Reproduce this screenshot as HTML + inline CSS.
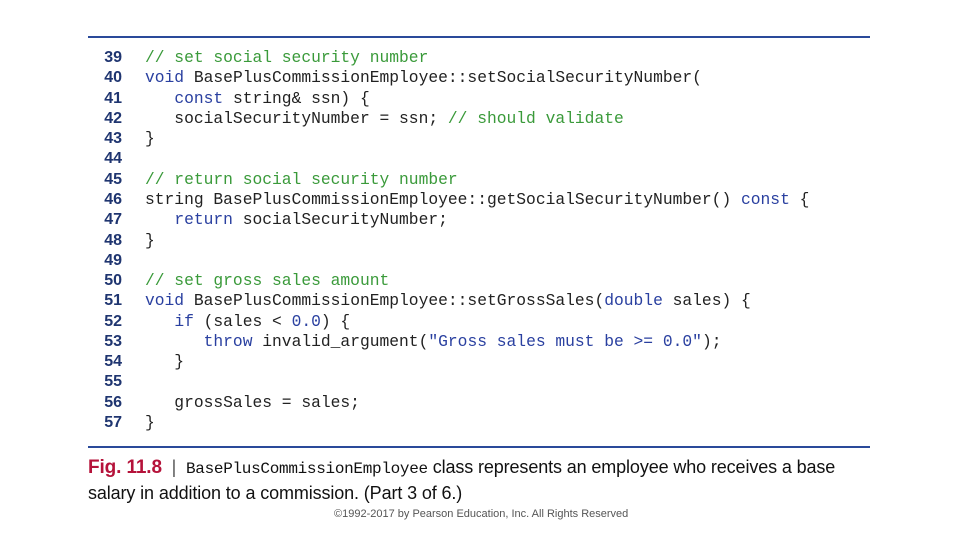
<!DOCTYPE html>
<html><head><style>
body{margin:0;width:960px;height:540px;background:#fff;position:relative;overflow:hidden;font-family:"Liberation Sans",sans-serif}
.rule{position:absolute;left:88px;width:782px;height:2px;background:#2a4a9a}
.ln{position:absolute;left:94px;width:28px;text-align:right;font:bold 16px "Liberation Sans",sans-serif;color:#1f3570}
.code{position:absolute;left:145px;font:16.3px "Liberation Mono",monospace;color:#222;white-space:pre}
.c{color:#3a9a3a}.k{color:#2a40a0}
</style></head><body>
<div class="rule" style="top:36px"></div>
<div class="rule" style="top:446px"></div>
<div id="lines"></div>
<script>
var L=[
['39','<span class="c">// set social security number</span>'],
['40','<span class="k">void</span> BasePlusCommissionEmployee::setSocialSecurityNumber('],
['41','   <span class="k">const</span> string&amp; ssn) {'],
['42','   socialSecurityNumber = ssn; <span class="c">// should validate</span>'],
['43','}'],
['44',''],
['45','<span class="c">// return social security number</span>'],
['46','string BasePlusCommissionEmployee::getSocialSecurityNumber() <span class="k">const</span> {'],
['47','   <span class="k">return</span> socialSecurityNumber;'],
['48','}'],
['49',''],
['50','<span class="c">// set gross sales amount</span>'],
['51','<span class="k">void</span> BasePlusCommissionEmployee::setGrossSales(<span class="k">double</span> sales) {'],
['52','   <span class="k">if</span> (sales &lt; <span class="k">0.0</span>) {'],
['53','      <span class="k">throw</span> invalid_argument(<span class="k">"Gross sales must be &gt;= 0.0"</span>);'],
['54','   }'],
['55',''],
['56','   grossSales = sales;'],
['57','}']];
var h='';
for(var i=0;i<L.length;i++){var t=49+i*20.28;
h+='<div class="ln" style="top:'+t+'px">'+L[i][0]+'</div><div class="code" style="top:'+(t-1)+'px">'+L[i][1]+'</div>';}
document.getElementById('lines').innerHTML=h;
</script>
<div style="position:absolute;left:88px;top:457px;font-size:18px;color:#111;white-space:nowrap;letter-spacing:-0.12px"><b style="color:#b5123a;font-size:19px">Fig. 11.8</b> &nbsp;<span style="color:#555">|</span> &nbsp;<span style="font-family:'Liberation Mono',monospace;font-size:16px;letter-spacing:-0.3px">BasePlusCommissionEmployee</span> class represents an employee who receives a base</div>
<div style="position:absolute;left:88px;top:483px;font-size:18px;color:#111;letter-spacing:-0.12px">salary in addition to a commission. (Part 3 of 6.)</div>
<div style="position:absolute;left:334px;top:508px;font-size:11px;color:#555">©1992-2017 by Pearson Education, Inc. All Rights Reserved</div>
</body></html>
